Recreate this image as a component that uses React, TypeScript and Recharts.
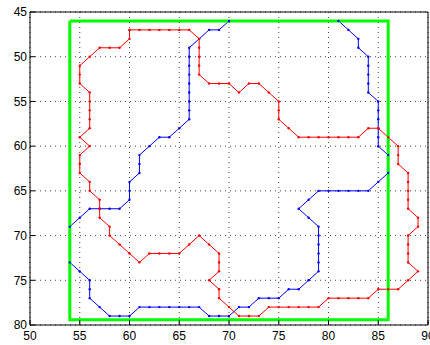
import { LineChart, Line, XAxis, YAxis, CartesianGrid } from "recharts";

const xTicks = [50, 55, 60, 65, 70, 75, 80, 85, 90];
const yTicks = [45, 50, 55, 60, 65, 70, 75, 80];

// red contour, traced clockwise from the top-left corner
const redX = [
  60, 61, 62, 63, 64, 65, 66, 67, 67, 67, 67, 67, 68, 69, 70, 71, 72, 73, 74, 75,
  75, 75, 76, 77, 78, 79, 80, 81, 82, 83, 84, 85, 86, 87, 87, 87, 88, 88, 88, 88,
  88, 89, 89, 88, 88, 88, 88, 89, 88, 87, 86, 85, 84, 83, 82, 81, 80, 79, 78, 77,
  76, 75, 74, 73, 72, 71, 70, 69, 69, 68, 69, 69, 69, 68, 67, 66, 65, 64, 63, 62,
  61, 60, 59, 58, 58, 57, 57, 57, 56, 56, 55, 55, 55, 56, 55, 56, 56, 56, 56, 56,
  55, 55, 55, 56, 57, 58, 59, 60, 60,
];
const redY = [
  47, 47, 47, 47, 47, 47, 47, 48, 49, 50, 51, 52, 53, 53, 53, 54, 53, 53, 54, 55,
  56, 57, 58, 59, 59, 59, 59, 59, 59, 59, 58, 58, 59, 60, 61, 62, 63, 64, 65, 66,
  67, 68, 69, 70, 71, 72, 73, 74, 75, 76, 76, 76, 77, 77, 77, 77, 77, 78, 78, 78,
  78, 78, 78, 79, 79, 79, 78, 77, 76, 75, 74, 73, 72, 71, 70, 71, 72, 72, 72, 72,
  73, 72, 71, 70, 69, 68, 67, 66, 65, 64, 63, 62, 61, 60, 59, 58, 57, 56, 55, 54,
  53, 52, 51, 50, 49, 49, 49, 48, 47,
];

// blue contour; null marks the stretches that run along the green box
const blueX = [
  70, 69, 68, 67, 66, 66, 66, 66, 66, 66, 66, 66, 66, 65, 64, 63, 62, 61, 61, 61,
  60, 60, 60, 59, 58, 57, 56, 55, 54, 54, 54, 55, 56, 56, 56, 57, 58, 59,
  60, 61, 62, 63, 64, 65, 66, 67, 68, 69, 70, 71, 72, 73, 74, 75, 76, 77, 78, 79,
  79, 79, 79, 79, 79, 78, 77, 78, 79, 80, 81, 82, 83, 84, 85, 86, 86, 86, 85, 85,
  85, 85, 85, 85, 84, 84, 84, 84, 84, 83, 83, 82, 81,
];
const blueY: (number | null)[] = [
  46, 47, 47, 48, 49, 50, 51, 52, 53, 54, 55, 56, 57, 58, 59, 59, 60, 61, 62, 63,
  64, 65, 66, 67, 67, 67, 67, 68, 69, null, 73, 74, 75, 76, 77, 78, 79, 79,
  79, 78, 78, 78, 78, 78, 78, 78, 79, 79, 79, 78, 78, 77, 77, 77, 76, 76, 75, 74,
  73, 72, 71, 70, 69, 68, 67, 66, 65, 65, 65, 65, 65, 65, 64, 63, null, 61, 60, 59,
  58, 57, 56, 55, 54, 53, 52, 51, 50, 49, 48, 47, 46,
];

const boxX = [54, 86, 86, 54, 54];
const boxY = [46, 46, 79.4, 79.4, 46];

const toPoints = (xs: number[], ys: (number | null)[]) =>
  xs.map((x, i) => ({ x, y: ys[i] }));

const red = toPoints(redX, redY);
const blue = toPoints(blueX, blueY);
const box = toPoints(boxX, boxY);

const tickFont = {
  fill: "#000",
  fontSize: 12,
  fontFamily: "'Liberation Sans', Arial, sans-serif",
};

export default function App() {
  return (
    <div
      style={{
        position: "absolute",
        left: 0,
        top: 0,
        width: 430,
        height: 345,
        overflow: "hidden",
        background: "#fff",
      }}
    >
      <LineChart
        width={430}
        height={345}
        margin={{ top: 11, right: 1, bottom: 0, left: 0 }}
      >
        <CartesianGrid stroke="#444" strokeDasharray="1 4" />
        <XAxis
          dataKey="x"
          type="number"
          domain={[50, 90]}
          ticks={xTicks}
          interval={0}
          allowDataOverflow
          height={20}
          tickSize={-5}
          tickMargin={11}
          stroke="#000"
          tick={tickFont}
        />
        <XAxis
          xAxisId="top"
          orientation="top"
          dataKey="x"
          type="number"
          domain={[50, 90]}
          ticks={xTicks}
          interval={0}
          allowDataOverflow
          height={1}
          tickSize={-5}
          tick={false}
          stroke="#000"
        />
        <YAxis
          dataKey="y"
          type="number"
          domain={[45, 80]}
          reversed
          ticks={yTicks}
          interval={0}
          allowDataOverflow
          width={30}
          tickSize={-5}
          tickMargin={8}
          stroke="#000"
          tick={tickFont}
        />
        <YAxis
          yAxisId="right"
          orientation="right"
          dataKey="y"
          type="number"
          domain={[45, 80]}
          reversed
          ticks={yTicks}
          interval={0}
          allowDataOverflow
          width={1}
          tickSize={-5}
          tick={false}
          stroke="#000"
        />
        <Line
          data={blue}
          dataKey="y"
          type="linear"
          stroke="#0000ff"
          strokeWidth={1}
          connectNulls={false}
          dot={{ r: 1.2, fill: "#0000ff", stroke: "#0000ff", strokeWidth: 0 }}
          isAnimationActive={false}
        />
        <Line
          data={red}
          dataKey="y"
          type="linear"
          stroke="#ff0000"
          strokeWidth={1}
          dot={{ r: 1.2, fill: "#ff0000", stroke: "#ff0000", strokeWidth: 0 }}
          isAnimationActive={false}
        />
        <Line
          data={box}
          dataKey="y"
          type="linear"
          stroke="#00ff00"
          strokeWidth={3}
          dot={false}
          isAnimationActive={false}
        />
      </LineChart>
    </div>
  );
}
